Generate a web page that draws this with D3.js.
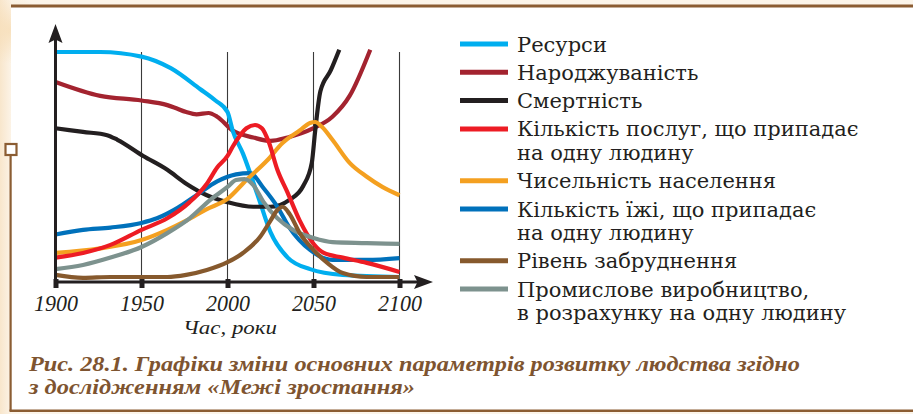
<!DOCTYPE html>
<html>
<head>
<meta charset="utf-8">
<script src="https://cdn.jsdelivr.net/npm/d3@7/dist/d3.min.js"></script>
<style>
  html, body { margin: 0; padding: 0; background: #fff; }
  svg { display: block; }
</style>
</head>
<body>
<svg id="chart" width="913" height="414"></svg>
<script>
// Year ticks on the time axis
const tickYears = [1900, 1950, 2000, 2050, 2100];

// Each series: [year, relative level (0–100)]
const resources = [[1900,100],[1926,100],[1950,98],[1967,93],[1984,84],[1993,79],[2000,74],[2003,66],[2009,56],[2018,37],[2025,22],[2035,11],[2048,6],[2067,3.5],[2100,2.6]];
const birthRate = [[1900,87],[1926,81],[1950,79],[1965,77],[1969,76],[1976,74],[1982,73],[1989,73.6],[1994,72],[2003,66],[2015,63],[2025,61.5],[2035,63],[2050,67],[2061,72],[2071,81],[2083,101]];
const deathRate = [[1900,67],[1916,65.4],[1930,64],[1936,62],[1951,55],[1965,49],[1976,43],[1988,38],[2000,35],[2015,33],[2025,33],[2036,36],[2044,42],[2049,52],[2051,66],[2054,83],[2060,92],[2065,101]];
const servicesPerCapita = [[1900,11],[1916,13],[1932,16.5],[1950,23],[1965,28],[1978,35],[1988,43],[1994,50],[2000,55],[2003,59],[2011,67],[2016,68.4],[2020,67],[2024,61],[2029,49],[2035,39],[2042,27],[2050,17],[2056,13],[2067,11],[2081,8.7],[2100,4.8]];
const population = [[1900,13],[1926,15],[1950,18.6],[1965,23],[1976,27],[1988,32],[2000,36.4],[2011,44.6],[2023,53],[2032,60.6],[2042,66],[2048,69.3],[2051,69.7],[2055,67.5],[2061,62],[2071,52],[2081,46],[2090,41.6],[2100,38]];
const foodPerCapita = [[1900,21],[1916,23],[1932,24],[1950,26],[1959,28],[1971,32.5],[1982,38],[1994,44],[2005,47],[2013,47.6],[2021,41],[2029,33],[2036,24],[2048,14.3],[2061,10],[2081,10],[2100,10.8]];
const pollution = [[1900,3.5],[1916,2.2],[1932,2.6],[1950,2.6],[1965,2.6],[1976,3.5],[1988,5.6],[2000,9],[2009,13],[2019,20],[2025,27],[2029,31.6],[2032,33],[2036,30],[2042,21.6],[2050,14.3],[2058,8.7],[2067,4.3],[2081,2.6],[2100,2.6]];
const industryPerCapita = [[1900,6],[1916,7.8],[1932,11],[1950,15.6],[1965,21.6],[1978,28],[1990,36],[2000,41.6],[2005,44.6],[2010,45],[2015,42.4],[2021,35],[2029,28],[2038,23],[2050,19.5],[2061,17.7],[2081,17.3],[2100,16.9]];

// Legend labels (multi-line entries split into rows)
const legendLabels = [
  ["Ресурси"],
  ["Народжуваність"],
  ["Смертність"],
  ["Кількість послуг, що припадає", "на одну людину"],
  ["Чисельність населення"],
  ["Кількість їжі, що припадає", "на одну людину"],
  ["Рівень забруднення"],
  ["Промислове виробництво,", "в розрахунку на одну людину"]
];
const seriesColors = ["#00aeef", "#a3232f", "#231f20", "#ed1c24", "#f4a020", "#0071bb", "#86592d", "#7d928e"];
const seriesData = [resources, birthRate, deathRate, servicesPerCapita, population, foodPerCapita, pollution, industryPerCapita];
// Drawing order (later = on top)
const drawOrder = [1, 0, 2, 5, 4, 3, 7, 6];

const axisTitle = "Час, роки";
const captionLines = [
  "Рис. 28.1. Графіки зміни основних параметрів розвитку людства згідно",
  "з дослідженням «Межі зростання»"
];

const svg = d3.select("#chart");
const W = 913, H = 414;
const ink = "#231f20";
const frameBrown = "#8b5d33";

// Page background and framed panel
const defs = svg.append("defs");
const lg = defs.append("linearGradient").attr("id", "margin").attr("x1", 0).attr("x2", 1);
lg.append("stop").attr("offset", 0).attr("stop-color", "#f8e6cc");
lg.append("stop").attr("offset", 1).attr("stop-color", "#fcf3e6");
const rg = defs.append("radialGradient").attr("id", "blob");
rg.append("stop").attr("offset", 0).attr("stop-color", "#f6d9ad").attr("stop-opacity", 0.7);
rg.append("stop").attr("offset", 1).attr("stop-color", "#f6d9ad").attr("stop-opacity", 0);

svg.append("rect").attr("width", W).attr("height", H).attr("fill", "#fcf5ea");
svg.append("rect").attr("width", 11).attr("height", H).attr("fill", "url(#margin)");
svg.append("circle").attr("cx", 12).attr("cy", 30).attr("r", 34).attr("fill", "url(#blob)");
svg.append("rect").attr("x", 11).attr("y", 5).attr("width", W - 11).attr("height", 406).attr("fill", "#fff");

// Frame: top rule, left rule with square marker, bottom rule
svg.append("rect").attr("x", 11).attr("y", 4.5).attr("width", W - 11).attr("height", 3).attr("fill", frameBrown);
svg.append("rect").attr("x", 9.5).attr("y", 149).attr("width", 2.2).attr("height", 262).attr("fill", frameBrown);
svg.append("rect").attr("x", 9.5).attr("y", 409.5).attr("width", W - 9.5).attr("height", 2.5).attr("fill", frameBrown);
svg.append("rect").attr("x", 5.5).attr("y", 144).attr("width", 11).attr("height", 11)
  .attr("fill", "#fff").attr("stroke", frameBrown).attr("stroke-width", 2.2);

// Scales
const x = d3.scaleLinear().domain([1900, 2100]).range([55.5, 399.5]);
const y = d3.scaleLinear().domain([0, 100]).range([283, 52]);
const axisY = 282;

// Vertical guide lines at tick years (except the origin)
svg.append("g").selectAll("line")
  .data(tickYears.slice(1))
  .join("line")
  .attr("x1", d => x(d)).attr("x2", d => x(d))
  .attr("y1", 52).attr("y2", axisY)
  .attr("stroke", "#3a3a3a").attr("stroke-width", 1.1);

// Series lines
const line = d3.line()
  .x(d => x(d[0]))
  .y(d => y(d[1]))
  .curve(d3.curveMonotoneX);

svg.append("g").selectAll("path")
  .data(drawOrder)
  .join("path")
  .attr("d", i => line(seriesData[i]))
  .attr("fill", "none")
  .attr("stroke", i => seriesColors[i])
  .attr("stroke-width", 4.2)
  .attr("stroke-linecap", "butt")
  .attr("stroke-linejoin", "round");

// Y axis with arrow
svg.append("line").attr("x1", x(1900)).attr("x2", x(1900)).attr("y1", axisY + 1).attr("y2", 38)
  .attr("stroke", ink).attr("stroke-width", 3);
svg.append("path")
  .attr("d", `M${x(1900)},24 L${x(1900) + 7},43 L${x(1900)},39.5 L${x(1900) - 7},43 Z`)
  .attr("fill", ink);

// X axis with ticks and labels
const xAxis = d3.axisBottom(x).tickValues(tickYears).tickSizeInner(6).tickSizeOuter(0).tickFormat(d3.format("d"));
const gx = svg.append("g").attr("transform", `translate(0,${axisY})`).call(xAxis);
gx.select(".domain").remove();
gx.selectAll(".tick line").attr("stroke", ink).attr("stroke-width", 5).attr("y1", -3);
gx.selectAll(".tick text")
  .attr("fill", ink)
  .attr("y", 29).attr("dy", 0)
  .attr("font-family", "'Liberation Serif', serif")
  .attr("font-style", "italic")
  .attr("font-size", 24)
  .attr("textLength", 44)
  .attr("lengthAdjust", "spacingAndGlyphs");
svg.append("line").attr("x1", x(1900) - 1.5).attr("x2", 420).attr("y1", axisY).attr("y2", axisY)
  .attr("stroke", ink).attr("stroke-width", 3);
svg.append("path")
  .attr("d", `M433,${axisY} L414,${axisY - 7} L417.5,${axisY} L414,${axisY + 7} Z`)
  .attr("fill", ink);

svg.append("text")
  .attr("x", 230).attr("y", 334)
  .attr("text-anchor", "middle")
  .attr("font-family", "'Liberation Serif', serif")
  .attr("font-style", "italic")
  .attr("font-size", 18)
  .attr("textLength", 94)
  .attr("lengthAdjust", "spacingAndGlyphs")
  .attr("fill", ink)
  .text(axisTitle);

// Legend
const legend = svg.append("g").attr("font-family", "'DejaVu Serif', serif").attr("font-size", 21).attr("fill", ink);
let rowY = 44;
legendLabels.forEach((rows, i) => {
  legend.append("line")
    .attr("x1", 460).attr("x2", 508).attr("y1", rowY).attr("y2", rowY)
    .attr("stroke", seriesColors[i]).attr("stroke-width", 5);
  rows.forEach((r, j) => {
    legend.append("text")
      .attr("x", 517).attr("y", rowY + 7.5 + j * 23.5)
      .text(r);
  });
  rowY += 28.3 + (rows.length - 1) * 23.5;
});

// Caption
const cap = svg.append("g")
  .attr("font-family", "'Liberation Serif', serif")
  .attr("font-style", "italic")
  .attr("font-weight", "bold")
  .attr("font-size", 22)
  .attr("fill", "#7e5430");
cap.append("text").attr("x", 29).attr("y", 371).attr("textLength", 771).attr("lengthAdjust", "spacingAndGlyphs").text(captionLines[0]);
cap.append("text").attr("x", 29).attr("y", 394).attr("textLength", 386).attr("lengthAdjust", "spacingAndGlyphs").text(captionLines[1]);
</script>
</body>
</html>
